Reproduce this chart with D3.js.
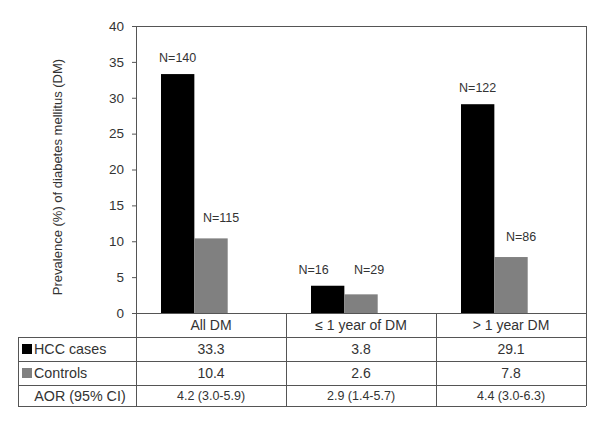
<!DOCTYPE html>
<html>
<head>
<meta charset="utf-8">
<script src="https://cdn.jsdelivr.net/npm/d3@7"></script>
<style>
  body { margin: 0; background: #fff; }
  svg text { font-family: "Liberation Sans", Arial, sans-serif; fill: #333; }
</style>
</head>
<body>
<div id="chart"></div>
<script>
const categories = ['All DM', '\u2264 1 year of DM', '> 1 year DM'];
const series = ['HCC cases', 'Controls'];
const hccValues = [33.3, 3.8, 29.1];
const controlValues = [10.4, 2.6, 7.8];
const hccN = ['N=140', 'N=16', 'N=122'];
const controlN = ['N=115', 'N=29', 'N=86'];
const aor = ['4.2 (3.0-5.9)', '2.9 (1.4-5.7)', '4.4 (3.0-6.3)'];
const yTicks = [0, 5, 10, 15, 20, 25, 30, 35, 40];

const colors = {'HCC cases': '#000000', 'Controls': '#808080'};

const width = 600, height = 422;
const plot = {left: 136, right: 586, top: 26, bottom: 313};
const tableLeft = 18;
const rowLines = [313, 337, 361, 385, 406];

const svg = d3.select('#chart').append('svg')
    .attr('width', width)
    .attr('height', height);

const yScale = d3.scaleLinear().domain([0, 40]).range([plot.bottom, plot.top]);
const xScale = d3.scaleBand().domain(categories).range([plot.left, plot.right]);
const xInner = d3.scaleBand().domain(series).range([25, 91.7]);

const data = categories.map(function(c, i) {
  return {cat: c, values: [
    {s: series[0], v: hccValues[i], n: hccN[i]},
    {s: series[1], v: controlValues[i], n: controlN[i]}
  ]};
});

// bars
const groups = svg.selectAll('.group')
    .data(data)
  .enter().append('g')
    .attr('transform', function(d) { return 'translate(' + xScale(d.cat) + ',0)'; });

groups.selectAll('rect')
    .data(function(d) { return d.values; })
  .enter().append('rect')
    .attr('x', function(d) { return xInner(d.s); })
    .attr('y', function(d) { return yScale(d.v); })
    .attr('width', xInner.bandwidth())
    .attr('height', function(d) { return yScale(0) - yScale(d.v); })
    .attr('fill', function(d) { return colors[d.s]; });

// N labels; the short bars in the middle group share one level and are spread apart
groups.each(function(d) {
  const g = d3.select(this);
  const maxV = d3.max(d.values, function(e) { return e.v; });
  const low = maxV < 5;
  d.values.forEach(function(e, j) {
    const shift = j === 0 ? (low ? -14 : 0) : (low ? 8 : 10);
    const y = low ? yScale(maxV) - 12 : yScale(e.v) - (j === 0 ? 12 : 16.5);
    g.append('text')
        .attr('x', xInner(e.s) + xInner.bandwidth() / 2 + shift)
        .attr('y', y)
        .attr('text-anchor', 'middle')
        .style('font-size', '12.5px')
        .text(e.n);
  });
});

// y axis
const yAxis = svg.append('g')
    .attr('transform', 'translate(' + plot.left + ',0)')
    .call(d3.axisLeft(yScale).tickValues(yTicks).tickSize(4).tickPadding(8));
yAxis.select('.domain').remove();
yAxis.selectAll('line').attr('stroke', '#555');
yAxis.selectAll('text').style('font-size', '13.5px').style('fill', '#333');

svg.append('text')
    .attr('transform', 'translate(62,177) rotate(-90)')
    .attr('text-anchor', 'middle')
    .style('font-size', '13px')
    .text('Prevalence (%) of diabetes mellitus (DM)');

// frame and table lines
const lineColor = '#555';
const lines = [
  [plot.left, plot.top, plot.right, plot.top],
  [plot.left, plot.top, plot.left, rowLines[4]],
  [plot.right, plot.top, plot.right, rowLines[4]],
  [tableLeft, rowLines[1], tableLeft, rowLines[4]],
  [plot.left - 4, rowLines[0], plot.right, rowLines[0]]
];
rowLines.slice(1).forEach(function(y) { lines.push([tableLeft, y, plot.right, y]); });
categories.slice(1).forEach(function(c) {
  lines.push([xScale(c), rowLines[0], xScale(c), rowLines[4]]);
});
svg.selectAll('.tline')
    .data(lines)
  .enter().append('line')
    .attr('x1', function(d) { return d[0]; })
    .attr('y1', function(d) { return d[1]; })
    .attr('x2', function(d) { return d[2]; })
    .attr('y2', function(d) { return d[3]; })
    .attr('stroke', lineColor)
    .attr('stroke-width', 1)
    .attr('shape-rendering', 'crispEdges');

// table text
const cx = function(c) { return xScale(c) + xScale.bandwidth() / 2; };
const rowMid = function(r) { return (rowLines[r] + rowLines[r + 1]) / 2; };

const rows = [
  {vals: categories, size: '14px'},
  {vals: hccValues.map(function(v) { return v.toFixed(1); }), size: '14px'},
  {vals: controlValues.map(function(v) { return v.toFixed(1); }), size: '14px'},
  {vals: aor, size: '12.5px'}
];
rows.forEach(function(r, ri) {
  svg.selectAll('.row' + ri)
      .data(r.vals)
    .enter().append('text')
      .attr('x', function(d, i) { return cx(categories[i]); })
      .attr('y', rowMid(ri))
      .attr('dy', '0.36em')
      .attr('text-anchor', 'middle')
      .style('font-size', r.size)
      .text(function(d) { return d; });
});

// legend cells
series.forEach(function(s, i) {
  const y = rowMid(i + 1);
  svg.append('rect')
      .attr('x', 22).attr('y', y - 5)
      .attr('width', 10).attr('height', 10)
      .attr('fill', colors[s]);
  svg.append('text')
      .attr('x', 34).attr('y', y)
      .attr('dy', '0.36em')
      .style('font-size', '14.3px')
      .text(s);
});
svg.append('text')
    .attr('x', 80).attr('y', rowMid(3))
    .attr('dy', '0.36em')
    .attr('text-anchor', 'middle')
    .style('font-size', '14.3px')
    .text('AOR (95% CI)');
</script>
</body>
</html>
